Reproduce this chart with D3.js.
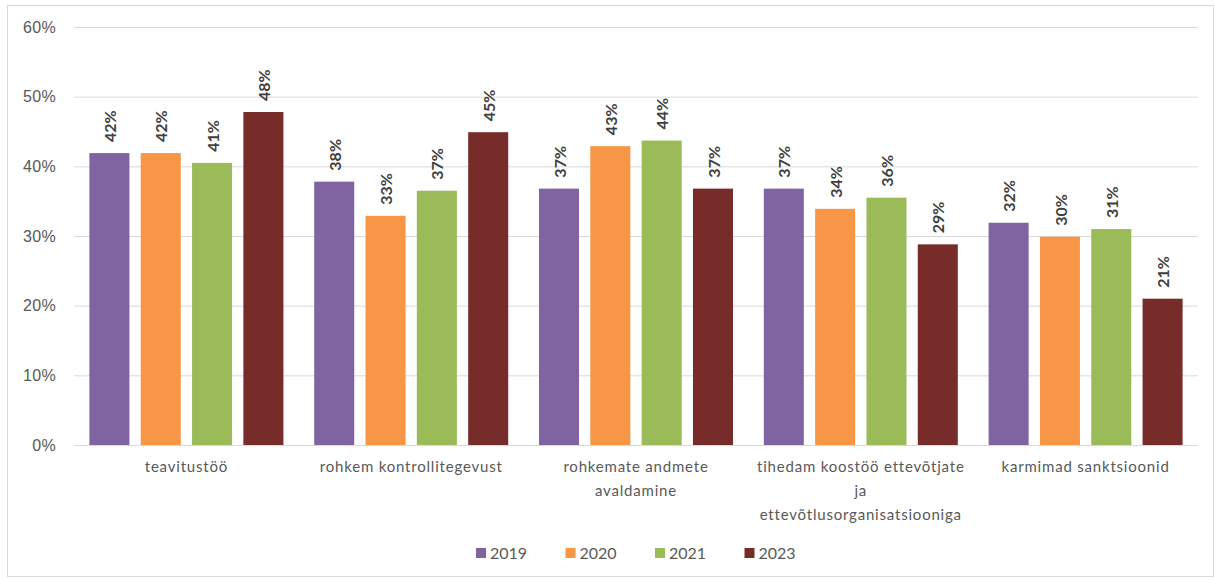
<!DOCTYPE html>
<html>
<head>
<meta charset="utf-8">
<script src="https://cdn.jsdelivr.net/npm/d3@7"></script>
<style>
  body { margin: 0; background: #fff; }
  svg { display: block; font-family: Lato, "Open Sans", sans-serif; }
</style>
</head>
<body>
<div id="chart"></div>
<script>
// categories (lines = how the axis label wraps)
const categories = [
  ['teavitustöö'],
  ['rohkem kontrollitegevust'],
  ['rohkemate andmete', 'avaldamine'],
  ['tihedam koostöö ettevõtjate', 'ja', 'ettevõtlusorganisatsiooniga'],
  ['karmimad sanktsioonid'],
];
const years = ['2019', '2020', '2021', '2023'];
const colors = ['#8064A2', '#F79646', '#9BBB59', '#772C2A'];

// values per year, percent, one per category
const v2019 = [41.9, 37.8, 36.8, 36.8, 31.9];
const v2020 = [41.9, 32.9, 42.9, 33.9, 29.9];
const v2021 = [40.5, 36.5, 43.7, 35.5, 31.0];
const v2023 = [47.8, 44.9, 36.8, 28.8, 21.0];
const yTicks = [0, 10, 20, 30, 40, 50, 60];

const series = [v2019, v2020, v2021, v2023];

const W = 1214, H = 580;
const margin = { top: 27, right: 16, bottom: 135, left: 74 };

const svg = d3.select('#chart').append('svg')
  .attr('width', W)
  .attr('height', H);

// outer frame
svg.append('rect')
  .attr('x', 7.5).attr('y', 5.5)
  .attr('width', W - 8).attr('height', H - 9)
  .attr('fill', 'none')
  .attr('stroke', '#d9d9d9');

const x0 = d3.scaleBand()
  .domain(d3.range(categories.length))
  .range([margin.left, W - margin.right]);

const x1 = d3.scaleBand()
  .domain(years)
  .range([0, x0.bandwidth()])
  .paddingInner(0.22)
  .paddingOuter(0.3);

const y = d3.scaleLinear()
  .domain([0, 60])
  .range([H - margin.bottom, margin.top]);

// gridlines + y labels
const yAxis = svg.append('g')
  .attr('transform', `translate(${margin.left},0)`)
  .call(d3.axisLeft(y)
    .tickValues(yTicks)
    .tickSize(-(W - margin.left - margin.right))
    .tickPadding(18)
    .tickFormat(d => d + '%'));
yAxis.select('.domain').remove();
yAxis.selectAll('line').attr('stroke', '#d9d9d9');
yAxis.selectAll('text')
  .attr('fill', '#595959')
  .style('font-size', '16px')
  .style('letter-spacing', '0.3px');

// bars
const groups = svg.append('g').selectAll('g')
  .data(categories)
  .join('g')
  .attr('transform', (d, i) => `translate(${x0(i)},0)`);

groups.selectAll('rect')
  .data((d, i) => years.map((yr, k) => ({ yr, k, v: series[k][i] })))
  .join('rect')
  .attr('x', d => x1(d.yr))
  .attr('y', d => y(d.v))
  .attr('width', x1.bandwidth())
  .attr('height', d => y(0) - y(d.v))
  .attr('fill', d => colors[d.k]);

// data labels, rotated
groups.selectAll('text.lbl')
  .data((d, i) => years.map((yr, k) => ({ yr, k, v: series[k][i] })))
  .join('text')
  .attr('class', 'lbl')
  .attr('transform', d =>
    `translate(${x1(d.yr) + x1.bandwidth() / 2 + 1},${y(d.v) - 11}) rotate(-90)`)
  .attr('dy', '0.35em')
  .attr('fill', '#404040')
  .style('font-size', '16px')
  .style('font-weight', 'bold')
  .text(d => Math.round(d.v) + '%');

// category labels
const catLbl = svg.append('g').selectAll('text')
  .data(categories)
  .join('text')
  .attr('x', (d, i) => x0(i) + x0.bandwidth() / 2)
  .attr('y', H - margin.bottom + 27)
  .attr('text-anchor', 'middle')
  .attr('fill', '#595959')
  .style('font-size', '15px')
  .style('letter-spacing', '0.8px');

catLbl.selectAll('tspan')
  .data(d => d)
  .join('tspan')
  .attr('x', function() { return d3.select(this.parentNode).attr('x'); })
  .attr('dy', (d, i) => i === 0 ? 0 : 24)
  .text(d => d);

// legend
const legend = svg.append('g')
  .attr('transform', `translate(476,553)`);

const item = legend.selectAll('g')
  .data(years)
  .join('g')
  .attr('transform', (d, i) => `translate(${i * 89.5},0)`);

item.append('rect')
  .attr('x', 0).attr('y', -5)
  .attr('width', 10).attr('height', 10)
  .attr('fill', (d, i) => colors[i]);

item.append('text')
  .attr('x', 14)
  .attr('dy', '0.35em')
  .attr('fill', '#595959')
  .style('font-size', '16px')
  .text(d => d);
</script>
</body>
</html>
